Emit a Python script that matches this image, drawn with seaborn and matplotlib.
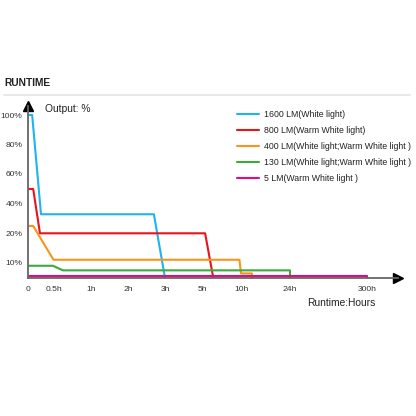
import seaborn as sns
import matplotlib.pyplot as plt
import pandas as pd
import numpy as np

# Runtime curves (hours, output %)
series_names = [
    '1600 LM(White light)',
    '800 LM(Warm White light)',
    '400 LM(White light;Warm White light )',
    '130 LM(White light;Warm White light )',
    '5 LM(Warm White light )',
]
colors = ['#1EB4EE', '#E8141B', '#F7941D', '#3BAA3C', '#E6097E']

hours_1600 = [0.02, 0.08, 0.25, 2.7, 3.0]
pct_1600 = [100, 100, 33, 33, 0]
hours_800 = [0, 0.1, 0.23, 5.4, 6.45]
pct_800 = [50, 50, 20, 20, 0]
hours_400 = [0, 0.1, 0.49, 9.8, 10, 13.1, 13.2]
pct_400 = [25, 25, 11, 11, 3, 3, 0]
hours_130 = [0, 0.48, 0.62, 24, 24]
pct_130 = [8, 8, 5, 5, 0]
hours_5 = [0, 300, 300]
pct_5 = [1, 1, 0]

x_ticks = [0, 0.5, 1, 2, 3, 5, 10, 24, 300]
x_tick_labels = ['0', '0.5h', '1h', '2h', '3h', '5h', '10h', '24h', '300h']
y_ticks = [10, 20, 40, 60, 80, 100]
y_tick_labels = ['10%', '20%', '40%', '60%', '80%', '100%']

# The chart uses an uneven, piecewise axis; knots map values to positions
x_knots = [0, 0.5, 1, 2, 3, 5, 10, 24, 300, 500]
x_pos = [0, 26, 63, 100, 137, 174, 213, 262, 339, 370]
y_knots = [0, 10, 20, 40, 60, 80, 100, 110]
y_pos = [0, 15.3, 44.7, 74, 104, 133.3, 163, 172]

all_hours = [hours_1600, hours_800, hours_400, hours_130, hours_5]
all_pct = [pct_1600, pct_800, pct_400, pct_130, pct_5]
rows = []
for name, hs, ps in zip(series_names, all_hours, all_pct):
    for i, (h, p) in enumerate(zip(hs, ps)):
        rows.append({'series': name, 'order': i, 'hours': h, 'pct': p})
df = pd.DataFrame(rows)

sns.set_style("white")
plt.rcParams['font.family'] = ['Liberation Sans', 'DejaVu Sans']

fig = plt.figure(figsize=(4.16, 4.16), dpi=100)
ax = fig.add_axes([28 / 416, 1 - 278 / 416, 370 / 416, 172 / 416])

sns.lineplot(data=df, x='hours', y='pct', hue='series', units='series',
             estimator=None, sort=False, palette=dict(zip(series_names, colors)),
             linewidth=1.5, ax=ax, legend=False)

ax.set_xscale('function', functions=(lambda v: np.interp(v, x_knots, x_pos),
                                     lambda v: np.interp(v, x_pos, x_knots)))
ax.set_yscale('function', functions=(lambda v: np.interp(v, y_knots, y_pos),
                                     lambda v: np.interp(v, y_pos, y_knots)))
ax.set_xlim(0, 500)
ax.set_ylim(0, 110)

ax.set_xticks(x_ticks)
ax.set_xticklabels(x_tick_labels)
ax.set_yticks(y_ticks)
ax.set_yticklabels(y_tick_labels)
ax.minorticks_off()
ax.tick_params(axis='x', direction='inout', length=3, width=0.8, color='#777',
               labelsize=6.1, labelcolor='#333', pad=4.5)
ax.tick_params(axis='y', direction='out', length=3, width=0.8, color='#777',
               labelsize=6.1, labelcolor='#333', pad=1)
ax.set_xlabel('')
ax.set_ylabel('')

for side in ['top', 'right']:
    ax.spines[side].set_visible(False)
for side in ['left', 'bottom']:
    ax.spines[side].set_color('#666666')
    ax.spines[side].set_linewidth(1.3)

# Arrow heads at the ends of the axes
ax.plot(1, 0, marker='>', color='black', markersize=6.5, transform=ax.transAxes, clip_on=False)
ax.plot(0, 1, marker='^', color='black', markersize=6.5, transform=ax.transAxes, clip_on=False)

handles = [plt.Line2D([], [], color=c, linewidth=1.5) for c in colors]
fig.legend(handles, series_names, loc='upper left', bbox_to_anchor=(236.7 / 416, 1 - 110 / 416),
           frameon=False, fontsize=6.3, handlelength=2.6, handletextpad=0.5,
           labelspacing=0.8, borderpad=0, borderaxespad=0, labelcolor='#222')

fig.text(45 / 416, 1 - 109.5 / 416, 'Output: %', fontsize=7.4, color='#222', va='center')
fig.text(307 / 416, 1 - 303.5 / 416, 'Runtime:Hours', fontsize=7.4, color='#222', va='center')
fig.text(4 / 416, 1 - 83 / 416, 'RUNTIME', fontsize=7.4, fontweight='bold', color='#222', va='center')
fig.add_artist(plt.Line2D([4 / 416, 410 / 416], [1 - 94.5 / 416, 1 - 94.5 / 416],
                          color='#e9e9e9', linewidth=1.5))

fig.savefig('out.png', dpi=100)
